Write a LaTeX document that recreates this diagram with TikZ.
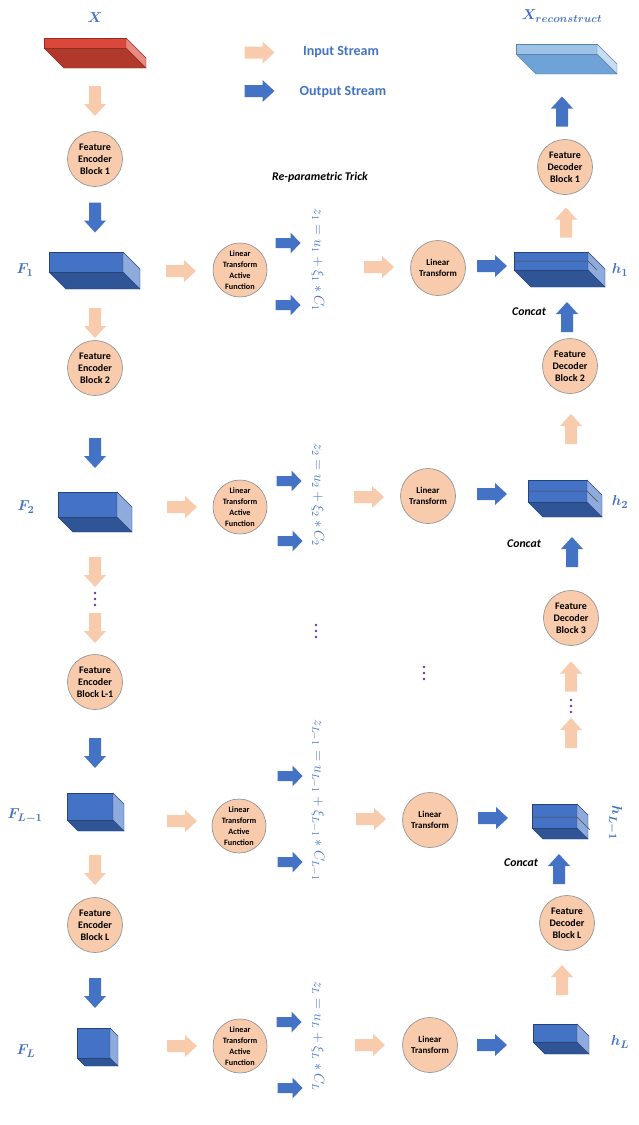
\documentclass[tikz,border=0pt]{standalone}
\usepackage[no-math]{fontspec}
\setmainfont{Carlito}
\usepackage{bm}
\definecolor{peach}{HTML}{F8CBAD}
\definecolor{oblue}{HTML}{4472C4}
\definecolor{dblue}{HTML}{2F5597}
\definecolor{lblue}{HTML}{8FAADC}
\definecolor{lbtop}{HTML}{9DC3E6}
\definecolor{lbbot}{HTML}{6FA3D8}
\definecolor{lbside}{HTML}{C9DDF0}
\definecolor{rtop}{HTML}{D9483B}
\definecolor{rbot}{HTML}{B0392C}
\definecolor{rside}{HTML}{E88A80}
\definecolor{dotc}{HTML}{7030A0}
\definecolor{lbl}{HTML}{4472C4}
\newcommand{\slab}[8]{%
  \filldraw[fill=#7, draw=#7!80!black, line width=.4pt] (#1,#2+#4) -- (#1+#5,#2+#4+#5) -- (#3+#5,#2+#4+#5) -- (#3,#2+#4) -- cycle;
  \filldraw[fill=#6, draw=#7!80!black, line width=.4pt] (#1,#2) rectangle (#3,#2+#4);
  \filldraw[fill=#8, draw=#7!80!black, line width=.4pt] (#3,#2) -- (#3+#5,#2+#5) -- (#3+#5,#2+#4+#5) -- (#3,#2+#4) -- cycle;
}
\newcommand{\divider}[4]{\draw[black!70, line width=.5pt] (#1,#2) -- (#3,#2) -- (#3+#4,#2+#4);}
\tikzset{
  circ/.style={circle, fill=peach, draw=black!45, line width=0.6pt, minimum size=55pt, inner sep=0pt, align=center, font=\bfseries\fontsize{10}{12}\selectfont},
  ltaf/.style={circ, minimum size=54pt, font=\bfseries\fontsize{8.2}{11}\selectfont},
  ltc/.style={circ, minimum size=55pt, font=\bfseries\fontsize{9}{11}\selectfont},
  lab/.style={text=lbl, font=\fontsize{15.5}{17}\selectfont},
  eqn/.style={text=lbl, rotate=-90, font=\fontsize{14}{16}\selectfont},
  note/.style={font=\bfseries\itshape\fontsize{11.8}{13}\selectfont},
  legend/.style={text=lbl, font=\bfseries\fontsize{14}{16}\selectfont},
  pics/bigarrow/.style={code={\fill[#1] (-15,-6) -- (3,-6) -- (3,-11) -- (15,0) -- (3,11) -- (3,6) -- (-15,6) -- cycle;}},
  pics/smallarrow/.style={code={\fill[#1] (-12.5,-5) -- (2.5,-5) -- (2.5,-10.5) -- (12.5,0) -- (2.5,10.5) -- (2.5,5) -- (-12.5,5) -- cycle;}},
  pics/vdots/.style={code={\fill[dotc] (0,-6) circle (1.4) (0,0) circle (1.4) (0,6) circle (1.4);}}
}
\begin{document}
\begin{tikzpicture}[x=1pt,y=-1pt]
\fill[white] (0,0) rectangle (638,1125);
\useasboundingbox (0,0) rectangle (638,1125);

% ---------- top ----------
\node[lab] (Xl) at (95,18) {$\bm{X}$};
\slab{44}{38}{126}{10}{20}{rtop}{rbot}{rside}
\coordinate (X) at (90,53);
\node[lab] (Xrl) at (562,16) {$\bm{X}_{\bm{reconstruct}}$};
\slab{516}{44}{597}{10}{20}{lbtop}{lbbot}{lbside}
\coordinate (Xr) at (562,59);

% legend
\pic at (259.5,52.5) {bigarrow=peach};
\node[legend] (lin) at (341,52) {Input Stream};
\pic at (259.5,91) {bigarrow=oblue};
\node[legend] (lout) at (343,92) {Output Stream};

% ---------- left column ----------
\pic[rotate=-90] at (95,101) {bigarrow=peach};
\node[circ] (E1) at (95,159) {Feature\\Encoder\\Block 1};
\pic[rotate=-90] at (95,217.5) {bigarrow=oblue};
\slab{49}{252}{123}{20}{17}{oblue}{dblue}{lblue}
\coordinate (F1) at (94,271);
\node[lab] (F1l) at (25,270) {$\bm{F}_{\bm{1}}$};
\pic[rotate=-90] at (95,323) {bigarrow=peach};
\node[circ] (E2) at (95,368) {Feature\\Encoder\\Block 2};
\pic[rotate=-90] at (95,453) {bigarrow=oblue};
\slab{58}{492}{117}{25}{15}{oblue}{dblue}{lblue}
\coordinate (F2) at (95,511);
\node[lab] (F2l) at (26,507) {$\bm{F}_{\bm{2}}$};
\pic[rotate=-90] at (95,572) {bigarrow=peach};
\pic at (95,599) {vdots};
\pic[rotate=-90] at (95,628) {bigarrow=peach};
\node[circ] (E3) at (95,682) {Feature\\Encoder\\Block L-1};
\pic[rotate=-90] at (95,753) {bigarrow=oblue};
\slab{67}{793}{113}{27}{11}{oblue}{dblue}{lblue}
\coordinate (F3) at (95,812);
\node[lab] (F3l) at (25,816) {$\bm{F}_{\bm{L-1}}$};
\pic[rotate=-90] at (95,870) {bigarrow=peach};
\node[circ] (E4) at (95,925) {Feature\\Encoder\\Block L};
\pic[rotate=-90] at (95,993) {bigarrow=oblue};
\slab{77}{1028}{110}{30}{8}{oblue}{dblue}{lblue}
\coordinate (F4) at (97,1047);
\node[lab] (F4l) at (26,1051) {$\bm{F}_{\bm{L}}$};

% ---------- row 1 ----------
\pic at (181,271) {bigarrow=peach};
\node[ltaf] (A1) at (240,270) {Linear\\Transform\\Active\\Function};
\pic at (288,243) {smallarrow=oblue};
\pic at (288,305) {smallarrow=oblue};
\node[eqn] (Z1) at (318,260) {$z_1 = u_1 + \xi_1 * C_1$};
\node[note] (rt) at (320,177) {Re-parametric Trick};
\pic at (379,267) {bigarrow=peach};
\node[ltc] (L1) at (438,268) {Linear\\Transform};
\pic at (492,266) {bigarrow=oblue};
\slab{514}{252}{588}{18}{17}{oblue}{dblue}{lblue}
\divider{514}{261}{588}{9}
\coordinate (H1) at (558,270);
\node[lab] (H1l) at (620,270) {$\bm{h}_{\bm{1}}$};
\node[note] (c1) at (529,312) {Concat};
\pic[rotate=90] at (567,317) {bigarrow=oblue};
\pic[rotate=90] at (566,222.5) {bigarrow=peach};
\node[circ] (D1) at (565,167) {Feature\\Decoder\\Block 1};
\pic[rotate=90] at (562,111.5) {bigarrow=oblue};
\node[circ] (D2) at (570,366) {Feature\\Decoder\\Block 2};

% ---------- row 2 ----------
\pic at (182,507) {bigarrow=peach};
\node[ltaf] (A2) at (240,507) {Linear\\Transform\\Active\\Function};
\pic at (289,481) {smallarrow=oblue};
\pic at (290,541) {smallarrow=oblue};
\node[eqn] (Z2) at (318,495) {$z_2 = u_2 + \xi_2 * C_2$};
\pic at (369,497) {bigarrow=peach};
\node[ltc] (L2) at (428,496) {Linear\\Transform};
\pic at (492,494) {bigarrow=oblue};
\slab{528}{480}{587}{22}{15}{oblue}{dblue}{lblue}
\divider{528}{491}{587}{11}
\coordinate (H2) at (565,498);
\node[lab] (H2l) at (620,502) {$\bm{h}_{\bm{2}}$};
\node[note] (c2) at (524,544) {Concat};
\pic[rotate=90] at (572,552) {bigarrow=oblue};
\pic[rotate=90] at (571,429) {bigarrow=peach};
\node[circ] (D3) at (571,618) {Feature\\Decoder\\Block 3};
\pic[rotate=90] at (571,676.5) {bigarrow=peach};
\pic at (571,706) {vdots};
\pic[rotate=90] at (571,733) {bigarrow=peach};

% middle dots
\pic at (316,631) {vdots};
\pic at (424,673) {vdots};

% ---------- row L-1 ----------
\pic at (182,821) {bigarrow=peach};
\node[ltaf] (A3) at (239,826) {Linear\\Transform\\Active\\Function};
\pic at (290,776) {smallarrow=oblue};
\pic at (290,862) {smallarrow=oblue};
\node[eqn] (Z3) at (318,800) {$z_{L-1} = u_{L-1} + \xi_{L-1} * C_{L-1}$};
\pic at (371,819) {bigarrow=peach};
\node[ltc] (L3) at (430,820) {Linear\\Transform};
\pic at (493,818) {bigarrow=oblue};
\slab{532}{804}{577}{24}{11}{oblue}{dblue}{lblue}
\divider{532}{817}{577}{13}
\coordinate (H3) at (560,822);
\node[lab, rotate=-90] (H3l) at (615,823) {$\bm{h}_{\bm{L-1}}$};
\node[note] (c3) at (521,863) {Concat};
\pic[rotate=90] at (559,869) {bigarrow=oblue};
\node[circ] (D4) at (567,923) {Feature\\Decoder\\Block L};

% ---------- row L ----------
\pic at (182,1046) {bigarrow=peach};
\node[ltaf] (A4) at (240,1046) {Linear\\Transform\\Active\\Function};
\pic at (289,1022) {smallarrow=oblue};
\pic at (290,1088) {smallarrow=oblue};
\node[eqn] (Z4) at (318,1036) {$z_L = u_L + \xi_L * C_L$};
\pic at (370,1045) {bigarrow=peach};
\node[ltc] (L4) at (430,1045) {Linear\\Transform};
\pic at (492,1045) {bigarrow=oblue};
\slab{533}{1024}{577}{18}{12}{oblue}{dblue}{lblue}
\coordinate (H4) at (561,1039);
\node[lab] (H4l) at (620,1042) {$\bm{h}_{\bm{L}}$};
\pic[rotate=90] at (562,980) {bigarrow=peach};
\end{tikzpicture}
\end{document}
